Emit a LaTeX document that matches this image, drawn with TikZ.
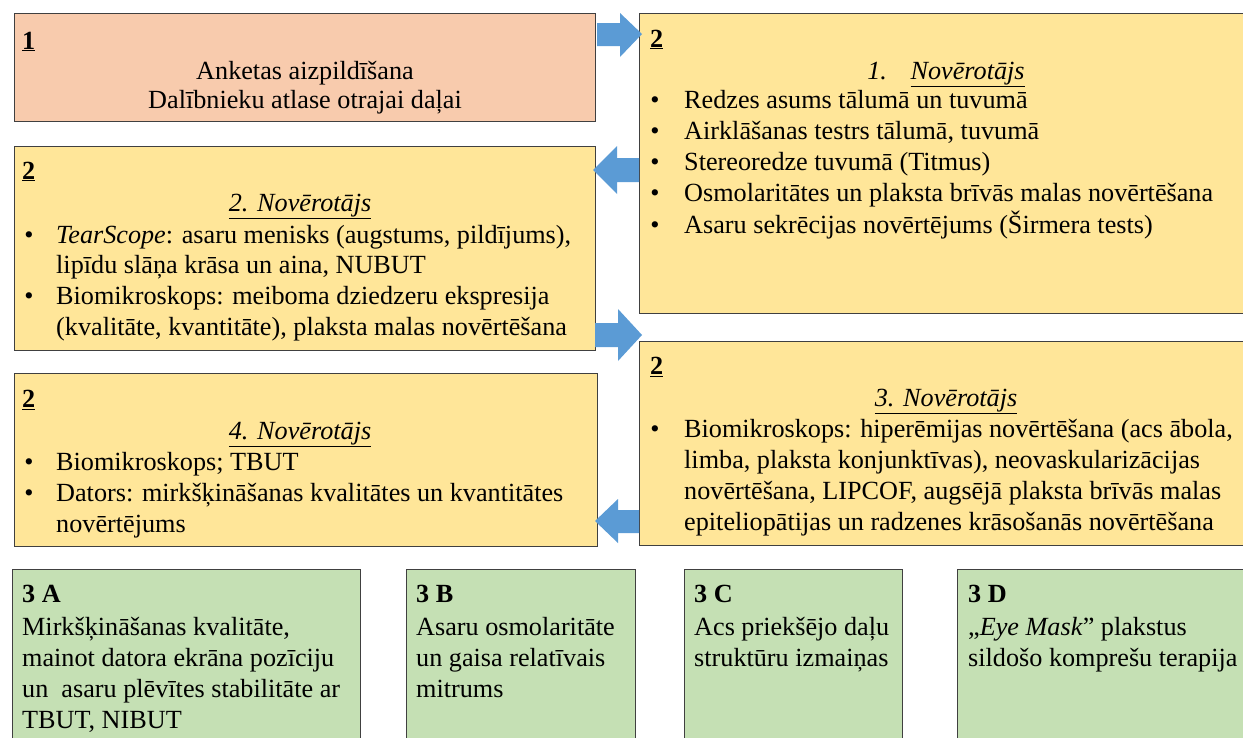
\documentclass[tikz,border=0pt]{standalone}
\usepackage{fontspec}
\setmainfont{Liberation Serif}
\definecolor{salmon}{HTML}{F8CBAD}
\definecolor{ylw}{HTML}{FFE699}
\definecolor{grn}{HTML}{C5E0B4}
\definecolor{arr}{HTML}{5B9BD5}
\definecolor{edge}{HTML}{404040}
\newcommand{\bodysz}{\fontsize{26.2}{30}\selectfont}
\tikzset{
  box/.style={draw=edge, line width=1.2pt, anchor=north west, inner sep=0pt},
  txt/.style={anchor=mid west, inner sep=0pt, font=\bodysz},
  ctr/.style={anchor=mid, inner sep=0pt, font=\bodysz},
  bul/.style={anchor=mid, inner sep=0pt, font=\bodysz},
  blk/.style={fill=arr, draw=none},
}
\begin{document}
\begin{tikzpicture}[x=1pt,y=-1pt]
\useasboundingbox (0,0) rectangle (1243,737);
\clip (0,0) rectangle (1243,737);
% boxes
\node[box, fill=salmon, minimum width=581, minimum height=108] (b1) at (14,13) {};
\node[box, fill=ylw, minimum width=620, minimum height=300] (b2) at (639,13) {};
\node[box, fill=ylw, minimum width=581, minimum height=204] (b3) at (14,146) {};
\node[box, fill=ylw, minimum width=620, minimum height=204] (b4) at (639,341) {};
\node[box, fill=ylw, minimum width=583, minimum height=173] (b5) at (14,373) {};
\node[box, fill=grn, minimum width=348, minimum height=190] (g1) at (12,569) {};
\node[box, fill=grn, minimum width=229, minimum height=190] (g2) at (406,569) {};
\node[box, fill=grn, minimum width=218, minimum height=190] (g3) at (684,569) {};
\node[box, fill=grn, minimum width=300, minimum height=190] (g4) at (957,569) {};
% block arrows
\path[blk] (597,23) -- (620,23) -- (620,13) -- (642,34) -- (620,57) -- (620,46) -- (597,46) -- cycle;
\path[blk] (639,158) -- (617,158) -- (617,146) -- (593,170) -- (617,194) -- (617,182) -- (639,182) -- cycle;
\path[blk] (595,323) -- (618,323) -- (618,309) -- (642,335) -- (618,361) -- (618,347) -- (595,347) -- cycle;
\path[blk] (639,510) -- (618,510) -- (618,499) -- (595,521) -- (618,543) -- (618,533) -- (639,533) -- cycle;
\begin{scope}[yshift=-5pt]
% box 1
\node[txt] (h1) at (22,42) {\textbf{\underline{1}}};
\node[ctr] (t1a) at (305,72) {Anketas aizpildīšana};
\node[ctr] (t1b) at (305,101) {Dalībnieku atlase otrajai daļai};
% box 2 top right
\node[txt] (h2) at (650,40) {\textbf{\underline{2}}};
\node[ctr] (o1) at (946,72) {\textit{1.\hspace{0.9em}\underline{Novērotājs}}};
\foreach \y/\n in {101/a,132/b,163/c,194/d,226/e} \node[bul] (b2\n) at (655,\y) {•};
\node[txt] (t2a) at (684,101) {Redzes asums tālumā un tuvumā};
\node[txt] (t2b) at (684,132) {Airklāšanas testrs tālumā, tuvumā};
\node[txt] (t2c) at (684,163) {Stereoredze tuvumā (Titmus)};
\node[txt] (t2d) at (684,194) {Osmolaritātes un plaksta brīvās malas novērtēšana};
\node[txt] (t2e) at (684,226) {Asaru sekrēcijas novērtējums (Širmera tests)};
% box 3 left
\node[txt] (h3) at (22,172) {\textbf{\underline{2}}};
\node[ctr] (o2) at (300,204) {\textit{\underline{2. Novērotājs}}};
\node[bul] (b3a) at (29,236) {•};
\node[bul] (b3b) at (29,297) {•};
\node[txt] (t3a) at (56,236) {\textit{TearScope}: asaru menisks (augstums, pildījums),};
\node[txt] (t3b) at (56,266) {lipīdu slāņa krāsa un aina, NUBUT};
\node[txt] (t3c) at (56,297) {Biomikroskops: meiboma dziedzeru ekspresija};
\node[txt] (t3d) at (56,328) {(kvalitāte, kvantitāte), plaksta malas novērtēšana};
% box 4 right lower
\node[txt] (h4) at (650,367) {\textbf{\underline{2}}};
\node[ctr] (o3) at (946,399) {\textit{\underline{3. Novērotājs}}};
\node[bul] (b4a) at (655,430) {•};
\node[txt] (t4a) at (684,430) {Biomikroskops: hiperēmijas novērtēšana (acs ābola,};
\node[txt] (t4b) at (684,461) {limba, plaksta konjunktīvas), neovaskularizācijas};
\node[txt] (t4c) at (684,492) {novērtēšana, LIPCOF,\ augsējā plaksta brīvās malas};
\node[txt] (t4d) at (684,523) {epiteliopātijas un radzenes krāsošanās novērtēšana};
% box 5 left lower
\node[txt] (h5) at (22,400) {\textbf{\underline{2}}};
\node[ctr] (o4) at (300,432) {\textit{\underline{4. Novērotājs}}};
\node[bul] (b5a) at (29,463) {•};
\node[bul] (b5b) at (29,494) {•};
\node[txt] (t5a) at (56,463) {Biomikroskops; TBUT};
\node[txt] (t5b) at (56,494) {Dators: mirkšķināšanas kvalitātes un kvantitātes};
\node[txt] (t5c) at (56,525) {novērtējums};
% green boxes
\node[txt] (hA) at (22,595) {\textbf{3 A}};
\node[txt] (tAa) at (22,628) {Mirkšķināšanas kvalitāte,};
\node[txt] (tAb) at (22,659) {mainot datora ekrāna pozīciju};
\node[txt] (tAc) at (22,690) {un\ \ asaru plēvītes stabilitāte ar};
\node[txt] (tAd) at (22,721) {TBUT, NIBUT};
\node[txt] (hB) at (416,595) {\textbf{3 B}};
\node[txt] (tBa) at (416,628) {Asaru osmolaritāte};
\node[txt] (tBb) at (416,659) {un gaisa relatīvais};
\node[txt] (tBc) at (416,690) {mitrums};
\node[txt] (hC) at (694,595) {\textbf{3 C}};
\node[txt] (tCa) at (694,628) {Acs priekšējo daļu};
\node[txt] (tCb) at (694,659) {struktūru izmaiņas};
\node[txt] (hD) at (968,595) {\textbf{3 D}};
\node[txt] (tDa) at (968,628) {„\textit{Eye Mask}” plakstus};
\node[txt] (tDb) at (968,659) {sildošo komprešu terapija};
\end{scope}
\end{tikzpicture}
\end{document}
